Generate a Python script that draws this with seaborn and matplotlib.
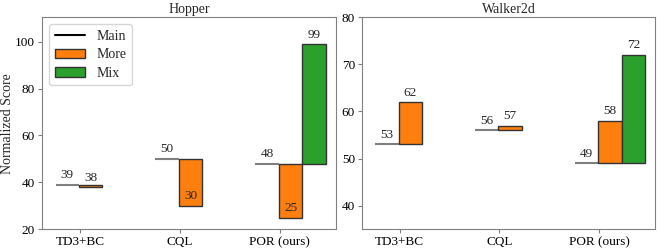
import numpy as np
import pandas as pd
import matplotlib
matplotlib.use('Agg')
import matplotlib.pyplot as plt
import seaborn as sns
from matplotlib.lines import Line2D
from matplotlib.patches import Patch

methods = ['TD3+BC', 'CQL', 'POR (ours)']

hopper_main = [39, 50, 48]
hopper_more = [38, 30, 25]
hopper_mix = [99]

walker_main = [53, 56, 49]
walker_more = [62, 57, 58]
walker_mix = [72]

sns.set_style('ticks')
plt.rcParams['font.family'] = ['Liberation Serif', 'DejaVu Serif']
plt.rcParams['axes.edgecolor'] = '#808080'
plt.rcParams['xtick.color'] = '#808080'
plt.rcParams['ytick.color'] = '#808080'
plt.rcParams['xtick.labelcolor'] = 'black'
plt.rcParams['ytick.labelcolor'] = 'black'
plt.rcParams['font.size'] = 9

orange = '#ff7f0e'
green = '#2ca02c'
w = 0.235


def draw(ax, main, more, mix, title):
    pos = np.arange(len(methods))
    # main score as a flat line left of the tick
    ax.hlines(main, pos - w - 0.01, pos - 0.01, color='black', alpha=0.5, lw=1.5)
    for p, v in zip(pos, main):
        ax.annotate(str(v), (p - w / 2 - 0.01, v), xytext=(0, 2.5), textcoords='offset points',
                    ha='center', va='bottom', fontsize=9.5)

    df_more = pd.DataFrame({'x': pos - 0.01 + w / 2, 'd': np.array(more) - np.array(main)})
    sns.barplot(data=df_more, x='x', y='d', native_scale=True, width=w, color=orange,
                saturation=1, edgecolor='#333333', linewidth=1, errorbar=None,
                bottom=np.array(main), ax=ax)
    for p, v in zip(pos, more):
        ax.annotate(str(v), (p - 0.01 + w / 2, v), xytext=(0, 2.5), textcoords='offset points',
                    ha='center', va='bottom', fontsize=9.5)

    # mix only for the last method
    n = len(mix)
    mpos = pos[-n:] - 0.01 + w * 1.5
    df_mix = pd.DataFrame({'x': mpos, 'd': np.array(mix) - np.array(main[-n:])})
    sns.barplot(data=df_mix, x='x', y='d', native_scale=True, width=w, color=green,
                saturation=1, edgecolor='#333333', linewidth=1, errorbar=None,
                bottom=np.array(main[-n:]), ax=ax)
    for p, v in zip(mpos, mix):
        ax.annotate(str(v), (p, v), xytext=(0, 2.5), textcoords='offset points',
                    ha='center', va='bottom', fontsize=9.5)

    ax.set_xticks(pos)
    ax.set_xticklabels(methods, fontsize=9.5)
    ax.set_xlabel('')
    ax.set_ylabel('')
    ax.set_title(title, fontsize=10, pad=3)
    ax.tick_params(axis='both', labelsize=9.5, length=3, width=0.8, pad=2)
    ax.set_xlim(-0.38, 2.56)


fig = plt.figure(figsize=(6.64, 2.5), dpi=100)
ax1 = fig.add_axes([0.0633, 0.083, 0.4423, 0.848])
ax2 = fig.add_axes([0.545, 0.083, 0.4414, 0.848])

draw(ax1, hopper_main, hopper_more, hopper_mix, 'Hopper')
draw(ax2, walker_main, walker_more, walker_mix, 'Walker2d')

ax1.set_ylim(20, 110.4)
ax1.set_yticks([20, 40, 60, 80, 100])
ax1.set_ylabel('Normalized Score', fontsize=10, labelpad=1)

ax2.set_ylim(35, 80)
ax2.set_yticks([40, 50, 60, 70, 80])

handles = [Line2D([0], [0], color='black', lw=1.5),
           Patch(facecolor=orange, edgecolor='#333333'),
           Patch(facecolor=green, edgecolor='#333333')]
ax1.legend(handles, ['Main', 'More', 'Mix'], loc='upper left', fontsize=10,
           handlelength=2.2, borderpad=0.4, labelspacing=0.4, handletextpad=0.8)

fig.savefig('out.png', dpi=100)
